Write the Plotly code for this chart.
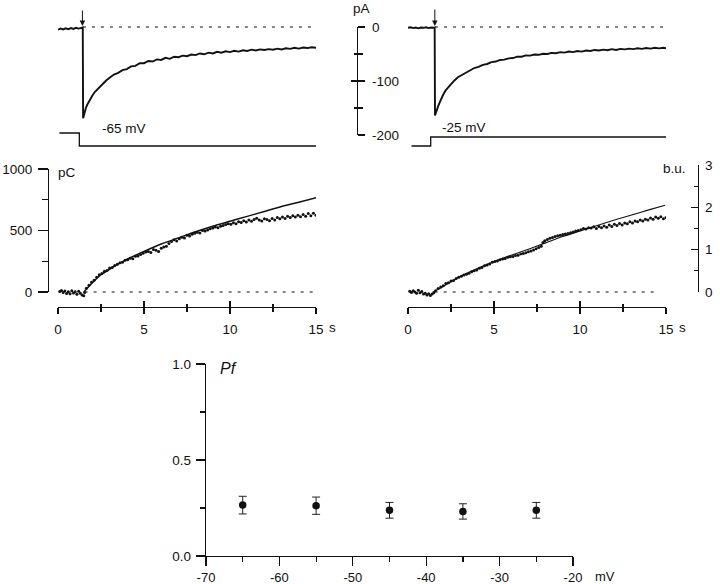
import plotly.graph_objects as go

W, H = 720, 584
FONT = "Liberation Sans, Arial, Helvetica, sans-serif"
INK = "#111111"

# ---------------- data ----------------
# top-left current trace (-65 mV), time in s, current in pA
t_tl = [0.0, 0.15, 0.3, 0.45, 0.6, 0.75, 0.9, 1.05, 1.2, 1.35, 1.44,
        1.46, 1.5, 1.55, 1.62, 1.7, 1.8, 1.9, 2.0, 2.15, 2.3, 2.45, 2.6, 2.8, 3.0,
        3.25, 3.5, 3.75, 4.0, 4.25, 4.5, 4.75, 5.0, 5.25, 5.5, 5.75, 6.0, 6.25,
        6.5, 6.75, 7.0, 7.25, 7.5, 7.75, 8.0, 8.25, 8.5, 8.75, 9.0, 9.25, 9.5,
        9.75, 10.0, 10.25, 10.5, 10.75, 11.0, 11.25, 11.5, 11.75, 12.0, 12.25,
        12.5, 12.75, 13.0, 13.25, 13.5, 13.75, 14.0, 14.25, 14.5, 14.75, 15.0]
i_tl = [-5, -3, -4.5, -2.5, -4, -2, -3.5, -1.5, -3, -1, -1,
        -169, -164, -157, -150, -144, -138, -132, -127, -120, -115, -109, -104, -99, -94,
        -88, -85, -80, -78, -73, -72, -67, -67, -63, -64, -60, -61, -57,
        -59, -55, -56, -53, -54, -51, -52, -49, -50.5, -47.5, -49, -46, -47.5,
        -45, -46.5, -44, -45.5, -43, -44.5, -42, -43.5, -41.5, -42.5, -41,
        -42, -40, -41.5, -39.5, -40.5, -38.5, -40, -38, -39, -37.5, -38.5]

# top-right current trace (-25 mV)
t_tr = [0.0, 0.15, 0.3, 0.45, 0.6, 0.75, 0.9, 1.05, 1.2, 1.35, 1.5, 1.55,
        1.57, 1.62, 1.7, 1.76, 1.85, 1.95, 2.05, 2.2, 2.35, 2.5, 2.7, 2.9, 3.1,
        3.35, 3.6, 3.85, 4.1, 4.35, 4.6, 4.85, 5.1, 5.35, 5.6, 5.85, 6.1, 6.35,
        6.6, 6.85, 7.1, 7.35, 7.6, 7.85, 8.1, 8.35, 8.6, 8.85, 9.1, 9.35, 9.6,
        9.85, 10.1, 10.35, 10.6, 10.85, 11.1, 11.35, 11.6, 11.85, 12.1, 12.35,
        12.6, 12.85, 13.1, 13.35, 13.6, 13.85, 14.1, 14.35, 14.6, 14.85, 15.05]
i_tr = [-1.5, -0.5, -2, -1, -2.5, -1, -1.5, -0.5, -2, -1, -1.5, -1,
        -164, -158, -150, -146, -139, -131, -125, -117, -111, -105, -99, -93, -89,
        -84, -80.5, -76, -74, -70, -68.5, -65, -64, -61, -60.5, -58, -57.5, -55,
        -55, -52.5, -53, -51, -51.5, -49.5, -50, -48, -48.5, -46.5, -47.5, -45.5, -46.5,
        -44.5, -45.5, -43.5, -44.5, -42.5, -43.5, -42, -43, -41, -42.5, -40.5,
        -41.5, -40, -41, -39.5, -40.5, -39, -40, -38.5, -39.5, -38.5, -39.5]

# zero-current baselines (start/end times)
base_t_tl = [1.45, 15.05]
base_t_tr = [1.57, 15.05]
zero_line = [0, 0]

# command-voltage steps (mV, schematic)
v_t_left = [0.08, 1.24, 1.24, 15.05]
v_left = [-45, -45, -65, -65]
v_t_right = [0.2, 1.32, 1.32, 15.2]
v_right = [-45, -45, -25, -25]

# middle-left: integrated charge (pC)
q_t = [0.1, 0.2, 0.3, 0.4, 0.5, 0.6, 0.7, 0.8, 0.9, 1.0, 1.1, 1.2, 1.3, 1.4, 1.5, 1.55,
       1.65, 1.8, 1.95, 2.1, 2.25, 2.4, 2.55, 2.7, 2.85, 3.0, 3.15, 3.3, 3.45, 3.6,
       3.75, 3.9, 4.05, 4.2, 4.35, 4.5, 4.65, 4.8, 4.95, 5.1, 5.25, 5.4, 5.55, 5.7,
       5.85, 6.0, 6.15, 6.3, 6.45, 6.6, 6.75, 6.9, 7.05, 7.2, 7.35, 7.5, 7.65, 7.8,
       7.95, 8.1, 8.25, 8.4, 8.55, 8.7, 8.85, 9.0, 9.15, 9.3, 9.45, 9.6, 9.75, 9.9,
       10.05, 10.2, 10.35, 10.5, 10.65, 10.8, 10.95, 11.1, 11.25, 11.4, 11.55, 11.7,
       11.85, 12.0, 12.15, 12.3, 12.45, 12.6, 12.75, 12.9, 13.05, 13.2, 13.35, 13.5,
       13.65, 13.8, 13.95, 14.1, 14.25, 14.4, 14.55, 14.7, 14.85, 15.0]
q_pc = [5, 12, -5, 8, -12, 3, -15, 10, -8, 2, -18, 6, -10, -25, -30, -5,
        30, 55, 80, 95, 120, 140, 150, 168, 175, 195, 200, 215, 225, 238,
        242, 258, 262, 275, 270, 290, 292, 305, 315, 325, 330, 322, 345, 340,
        330, 355, 365, 372, 395, 410, 425, 415, 432, 445, 440, 462, 455, 470,
        478, 485, 480, 500, 495, 505, 515, 520, 528, 522, 535, 540, 548, 555,
        550, 562, 555, 572, 565, 580, 570, 585, 575, 590, 600, 585,
        578, 595, 590, 580, 598, 585, 605, 595, 610, 598, 615, 605,
        620, 610, 625, 612, 630, 615, 638, 620, 640, 625]
q_fit_t = [1.5, 2, 2.5, 3, 4, 5, 6, 7, 8, 9, 10, 11, 12, 13, 14, 15.1]
q_fit = [0, 75, 140, 185, 265, 330, 390, 440, 490, 535, 575, 615, 655, 695, 730, 770]
q_base_t = [1.55, 15.1]

# middle-right: fluorescence (b.u.)
f_t = [0.1, 0.2, 0.3, 0.4, 0.5, 0.6, 0.7, 0.8, 0.9, 1.0, 1.1, 1.2, 1.3, 1.4, 1.5,
       1.6, 1.75, 1.9, 2.05, 2.2, 2.35, 2.5, 2.65, 2.8, 2.95, 3.1, 3.25, 3.4, 3.55,
       3.7, 3.85, 4.0, 4.15, 4.3, 4.45, 4.6, 4.75, 4.9, 5.05, 5.2, 5.35, 5.5, 5.65,
       5.8, 5.95, 6.1, 6.25, 6.4, 6.55, 6.7, 6.85, 7.0, 7.15, 7.3, 7.45, 7.6, 7.75,
       7.85, 7.95, 8.1, 8.25, 8.4, 8.55, 8.7, 8.85, 9.0, 9.15, 9.3, 9.45, 9.6, 9.75,
       9.9, 10.05, 10.2, 10.35, 10.5, 10.65, 10.8, 10.95, 11.1, 11.25, 11.4, 11.55,
       11.7, 11.85, 12.0, 12.15, 12.3, 12.45, 12.6, 12.75, 12.9, 13.05, 13.2, 13.35,
       13.5, 13.65, 13.8, 13.95, 14.1, 14.25, 14.4, 14.55, 14.7, 14.85, 15.0]
f_bu = [0.02, -0.01, 0.03, 0.0, -0.03, 0.04, -0.02, 0.01, -0.05, -0.03, -0.07, -0.04, -0.08, -0.05, -0.02,
        0.03, 0.08, 0.12, 0.15, 0.2, 0.22, 0.26, 0.27, 0.32, 0.35, 0.37, 0.40, 0.42, 0.44,
        0.48, 0.50, 0.52, 0.56, 0.58, 0.62, 0.64, 0.66, 0.70, 0.72, 0.73, 0.76, 0.78, 0.79,
        0.82, 0.83, 0.84, 0.86, 0.87, 0.90, 0.91, 0.93, 0.95, 0.97, 0.99, 1.02, 1.05, 1.08,
        1.17, 1.21, 1.24, 1.27, 1.29, 1.31, 1.33, 1.34, 1.36, 1.37, 1.38, 1.40, 1.42, 1.44,
        1.45, 1.47, 1.50, 1.49, 1.52, 1.51, 1.54, 1.50, 1.55, 1.52, 1.56, 1.53,
        1.58, 1.55, 1.60, 1.57, 1.62, 1.58, 1.63, 1.61, 1.66, 1.63, 1.68, 1.66,
        1.70, 1.68, 1.72, 1.70, 1.75, 1.72, 1.77, 1.74, 1.78, 1.73, 1.76]
f_fit_t = [1.45, 2, 2.5, 3, 4, 5, 6, 7, 8, 9, 10, 11, 12, 13, 14, 14.95]
f_fit = [0, 0.12, 0.24, 0.36, 0.55, 0.72, 0.87, 1.01, 1.16, 1.31, 1.44, 1.57, 1.70, 1.82, 1.94, 2.05]
f_base_t = [1.55, 14.4]

# bottom: fractional Ca2+ current vs voltage
pf_mv = [-65, -55, -45, -35, -25]
pf = [0.265, 0.262, 0.238, 0.232, 0.238]
pf_err = [0.046, 0.045, 0.041, 0.040, 0.041]

# tick labels
pa_ticks = [-200, -100, 0]
pa_labels = ["-200", "-100", "0"]
s_ticks = [0, 5, 10, 15]
s_labels = ["0", "5", "10", "15"]
pc_ticks = [0, 500, 1000]
pc_labels = ["0", "500", "1000"]
bu_ticks = [0, 1, 2, 3]
bu_labels = ["0", "1", "2", "3"]
mv_ticks = [-70, -60, -50, -40, -30, -20]
mv_labels = ["-70", "-60", "-50", "-40", "-30", "-20"]
pf_ticks = [0.0, 0.5, 1.0]
pf_labels = ["0.0", "0.5", "1.0"]


# ---------------- helpers (pixel layout -> paper) ----------------
def xdom(a, b):
    return [a / W, b / W]


def ydom(top, bot):
    return [1 - bot / H, 1 - top / H]


def yrange(v_a, p_a, v_b, p_b, p_top, p_bot):
    s = (v_b - v_a) / (p_b - p_a)
    return [v_a + (p_bot - p_a) * s, v_a + (p_top - p_a) * s]


hidden = dict(visible=False, showgrid=False, zeroline=False, fixedrange=True, automargin=False)
tickfont = dict(family=FONT, size=13.5, color=INK)

fig = go.Figure()

LW = 1.9
# top traces
fig.add_trace(go.Scatter(x=t_tl, y=i_tl, mode="lines", line=dict(color=INK, width=LW), xaxis="x", yaxis="y"))
fig.add_trace(go.Scatter(x=base_t_tl, y=zero_line, mode="lines", line=dict(color=INK, width=1.2, dash="3px,6px"), xaxis="x", yaxis="y"))
fig.add_trace(go.Scatter(x=v_t_left, y=v_left, mode="lines", line=dict(color=INK, width=1.3), xaxis="x", yaxis="y2"))
fig.add_trace(go.Scatter(x=t_tr, y=i_tr, mode="lines", line=dict(color=INK, width=LW), xaxis="x2", yaxis="y3"))
fig.add_trace(go.Scatter(x=base_t_tr, y=zero_line, mode="lines", line=dict(color=INK, width=1.2, dash="3px,6px"), xaxis="x2", yaxis="y3"))
fig.add_trace(go.Scatter(x=v_t_right, y=v_right, mode="lines", line=dict(color=INK, width=1.3), xaxis="x2", yaxis="y4"))

# middle traces
fig.add_trace(go.Scatter(x=q_base_t, y=zero_line, mode="lines", line=dict(color=INK, width=1.2, dash="3px,6px"), xaxis="x", yaxis="y5"))
fig.add_trace(go.Scatter(x=q_t, y=q_pc, mode="markers", marker=dict(color=INK, size=3), xaxis="x", yaxis="y5"))
fig.add_trace(go.Scatter(x=q_fit_t, y=q_fit, mode="lines", line=dict(color=INK, width=1.5, shape="spline", smoothing=0.6), xaxis="x", yaxis="y5"))
fig.add_trace(go.Scatter(x=f_base_t, y=zero_line, mode="lines", line=dict(color=INK, width=1.2, dash="3px,6px"), xaxis="x2", yaxis="y6"))
fig.add_trace(go.Scatter(x=f_t, y=f_bu, mode="markers", marker=dict(color=INK, size=3), xaxis="x2", yaxis="y6"))
fig.add_trace(go.Scatter(x=f_fit_t, y=f_fit, mode="lines", line=dict(color=INK, width=1.1, shape="spline", smoothing=0.6), xaxis="x2", yaxis="y6"))

# bottom panel
fig.add_trace(go.Scatter(x=pf_mv, y=pf, mode="markers",
                         marker=dict(color=INK, size=7.5),
                         error_y=dict(type="data", array=pf_err, width=4, thickness=1, color="#222222"),
                         xaxis="x3", yaxis="y7"))

# empty traces so that the free-standing axes get their subplots
for xa, ya in [("x2", "y8"), ("x2", "y9"), ("x4", "y10"), ("x5", "y10"), ("x6", "y11"), ("x7", "y11")]:
    fig.add_trace(go.Scatter(x=[], y=[], xaxis=xa, yaxis=ya, mode="markers", hoverinfo="skip"))

pa_rng = yrange(0, 27, -200, 135, 17, 145)
pc_rng = yrange(0, 292, 1000, 169, 160, 300)
bu_rng = yrange(0, 292, 3, 165, 160, 300)

axis_common = dict(showgrid=False, zeroline=False, fixedrange=True, linecolor=INK, tickcolor=INK,
                   tickwidth=1.2, linewidth=1.3, tickfont=tickfont, showline=True, automargin=False)

layout = dict(
    template="none",
    width=W, height=H, margin=dict(l=0, r=0, t=0, b=0, pad=0, autoexpand=False),
    paper_bgcolor="white", plot_bgcolor="rgba(0,0,0,0)", showlegend=False,
    font=dict(family=FONT, color=INK),
    xaxis=dict(domain=xdom(58, 316), range=[0, 15], anchor="y", **hidden),
    yaxis=dict(domain=ydom(17, 145), range=pa_rng, anchor="x", **hidden),
    yaxis2=dict(domain=ydom(122, 152), range=yrange(-45, 133, -65, 146, 122, 152), anchor="x", **hidden),
    xaxis2=dict(domain=xdom(408, 666), range=[0, 15], anchor="y3", **hidden),
    yaxis3=dict(domain=ydom(17, 145), range=pa_rng, anchor="x2", **hidden),
    yaxis4=dict(domain=ydom(122, 152), range=yrange(-45, 146, -25, 137, 122, 152), anchor="x2", **hidden),
    yaxis5=dict(domain=ydom(160, 300), range=pc_rng, anchor="x", **hidden),
    yaxis6=dict(domain=ydom(160, 300), range=bu_rng, anchor="x2", **hidden),
    # bottom panel axes
    xaxis3=dict(domain=xdom(206, 573), range=[-70, -20], anchor="y7",
                tickmode="array", tickvals=mv_ticks, ticktext=mv_labels,
                ticks="outside", ticklen=9, ticklabelstandoff=0,
                minor=dict(tickvals=[-65, -55, -45, -35, -25], ticks="outside", ticklen=5, tickcolor=INK, tickwidth=1.2),
                **{**axis_common, "tickfont": dict(family=FONT, size=13, color=INK)}),
    yaxis7=dict(domain=ydom(364, 556), range=[0, 1], anchor="x3",
                tickmode="array", tickvals=pf_ticks, ticktext=pf_labels,
                ticks="outside", ticklen=9, ticklabelstandoff=2,
                minor=dict(tickvals=[0.25, 0.75], ticks="outside", ticklen=5, tickcolor=INK, tickwidth=1.2),
                **axis_common),
    # pA scale bar
    yaxis8=dict(domain=ydom(27, 135), range=[-200, 0], anchor="free", position=357 / W, side="right",
                tickmode="array", tickvals=pa_ticks, ticktext=pa_labels,
                ticks="outside", ticklen=7, ticklabelstandoff=4,
                minor=dict(tickvals=[-150, -50], ticks="outside", ticklen=5, tickcolor=INK, tickwidth=1.2),
                **axis_common),
    yaxis9=dict(range=[-200, 0], anchor="free", position=357 / W, side="right", overlaying="y8",
                tickmode="array", tickvals=pa_ticks, showticklabels=False,
                ticks="inside", ticklen=6,
                minor=dict(tickvals=[-150, -50], ticks="inside", ticklen=3, tickcolor=INK, tickwidth=1.2),
                **{**axis_common, "showline": False}),
    # middle-left visible axes
    xaxis4=dict(domain=xdom(58, 316), range=[0, 15], anchor="free", position=1 - 307 / H, side="bottom",
                tickmode="array", tickvals=s_ticks, ticktext=s_labels,
                ticks="outside", ticklen=6, ticklabelstandoff=3,
                minor=dict(dtick=2.5, tick0=0, ticks="outside", ticklen=4, tickcolor=INK, tickwidth=1.2),
                **axis_common),
    xaxis5=dict(range=[0, 15], anchor="free", position=1 - 307 / H, side="bottom", overlaying="x4",
                tickmode="array", tickvals=s_ticks, showticklabels=False,
                ticks="inside", ticklen=6,
                minor=dict(dtick=2.5, tick0=0, ticks="inside", ticklen=3, tickcolor=INK, tickwidth=1.2),
                **{**axis_common, "showline": False}),
    yaxis10=dict(domain=ydom(169, 292), range=[0, 1000], anchor="free", position=48 / W, side="left",
                 tickmode="array", tickvals=pc_ticks, ticktext=pc_labels,
                 ticks="outside", ticklen=10, ticklabelstandoff=3,
                 minor=dict(tickvals=[250, 750], ticks="outside", ticklen=6, tickcolor=INK, tickwidth=1.2),
                 **axis_common),
    # middle-right visible axes
    xaxis6=dict(domain=xdom(408, 666), range=[0, 15], anchor="free", position=1 - 307 / H, side="bottom",
                tickmode="array", tickvals=s_ticks, ticktext=s_labels,
                ticks="outside", ticklen=6, ticklabelstandoff=3,
                minor=dict(dtick=2.5, tick0=0, ticks="outside", ticklen=4, tickcolor=INK, tickwidth=1.2),
                **axis_common),
    xaxis7=dict(range=[0, 15], anchor="free", position=1 - 307 / H, side="bottom", overlaying="x6",
                tickmode="array", tickvals=s_ticks, showticklabels=False,
                ticks="inside", ticklen=6,
                minor=dict(dtick=2.5, tick0=0, ticks="inside", ticklen=3, tickcolor=INK, tickwidth=1.2),
                **{**axis_common, "showline": False}),
    yaxis11=dict(domain=ydom(165, 292), range=[0, 3], anchor="free", position=698 / W, side="right",
                 tickmode="array", tickvals=bu_ticks, ticktext=bu_labels,
                 ticks="inside", ticklen=7, ticklabelstandoff=3,
                 minor=dict(tickvals=[0.5, 1.5, 2.5], ticks="inside", ticklen=4, tickcolor=INK, tickwidth=1.2),
                 **axis_common),
)
fig.update_layout(**layout)


def label(text, xpx, ypx, size=13.5, xanchor="center", italic=False):
    fig.add_annotation(text=text, x=xpx / W, y=1 - ypx / H, xref="paper", yref="paper",
                       xanchor=xanchor, yanchor="middle", showarrow=False,
                       font=dict(family=FONT, size=size, color=INK,
                                 style="italic" if italic else "normal"))


label("pA", 361, 8)
label("-65 mV", 124, 128)
label("-25 mV", 464, 127)
label("pC", 67, 172)
label("b.u.", 688, 168, xanchor="right")
label("s", 332, 327)
label("s", 682, 327)
label("Pf", 228, 368, size=16, italic=True)
label("mV", 605, 576, size=13)

# stimulus arrows
fig.add_annotation(x=1.42, y=0, xref="x", yref="y", ax=0, ay=-18, showarrow=True, text="",
                   arrowhead=2, arrowsize=1.1, arrowwidth=1, arrowcolor=INK, standoff=1)
fig.add_annotation(x=1.56, y=0, xref="x2", yref="y3", ax=0, ay=-19, showarrow=True, text="",
                   arrowhead=2, arrowsize=1.1, arrowwidth=1, arrowcolor=INK, standoff=1)

# remove the default page margin so the figure sits at the window's top-left corner
fig.write_html("out.html", config={"displayModeBar": False, "staticPlot": True},
               post_script="document.body.style.margin='0';document.body.style.overflow='hidden';")
